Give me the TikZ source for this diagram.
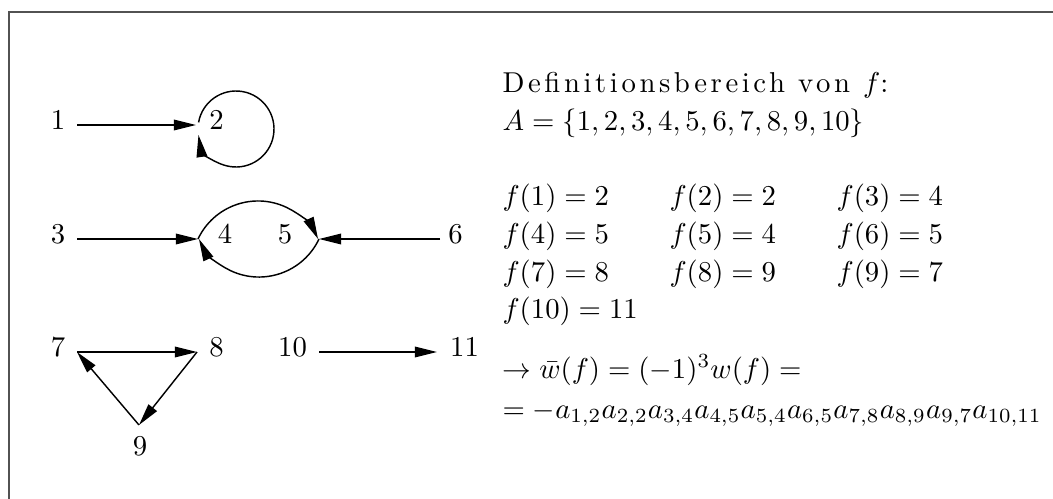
\documentclass[tikz,border=0pt]{standalone}
\usepackage{fontspec}
\usetikzlibrary{arrows.meta}
\newfontfamily\spacedfont[LetterSpace=12.5]{Latin Modern Roman}
\begin{document}
\begin{tikzpicture}[x=0.348pt,y=-0.348pt,
  arr/.style={line width=0.5pt,-{Triangle[length=7.7pt,width=3.7pt]}},
  lbl/.style={inner sep=0pt,anchor=base},
  txt/.style={inner sep=0pt,anchor=base west}]
\useasboundingbox (0,0) rectangle (1053,498);
\draw[line width=0.7pt,draw=black!68] (9,12) rectangle (1070,520);
% labels
\node[lbl] (n1) at (58,129) {1};
\node[lbl] (n2) at (216.5,129) {2};
\node[lbl] (n3) at (58,243) {3};
\node[lbl] (n4) at (225,243) {4};
\node[lbl] (n5) at (285,243) {5};
\node[lbl] (n6) at (455.5,243) {6};
\node[lbl] (n7) at (58,356) {7};
\node[lbl] (n8) at (216.5,356) {8};
\node[lbl] (n9) at (140,455) {9};
\node[lbl] (n10) at (292.5,356) {10};
\node[lbl] (n11) at (464.5,356) {11};
% vertex points
\coordinate (s1) at (77,125);
\coordinate (p2) at (196,125);
\coordinate (s3) at (77,239);
\coordinate (p4) at (198,239);
\coordinate (p5) at (319,239);
\coordinate (s6) at (440,239);
\coordinate (p7) at (77,352);
\coordinate (p8) at (197,352);
\coordinate (p9) at (139,425);
\coordinate (s10) at (319,352);
\coordinate (p11) at (437,352);
\coordinate (c2) at (236,129);
% connectors
\draw[arr] (s1) -- (p2);
\draw[arr] ([shift={(-170:38)}]c2) arc[start angle=-170, end angle=171, radius=38];
\draw[arr] (s3) -- (p4);
\draw[arr] (s6) -- (p5);
\draw[arr] (p4) arc[start angle=-154.7, end angle=-25.3, radius=66.4];
\draw[arr] (p5) arc[start angle=25.3, end angle=154.7, radius=66.4];
\draw[arr] (p7) -- (p8);
\draw[arr] (p8) -- (p9);
\draw[arr] (p9) -- (p7);
\draw[arr] (s10) -- (p11);
% text
\node[txt] (t1) at (502,92) {{\spacedfont Definitionsbereich von }$f${\spacedfont :}};
\node[txt] (t2) at (502,130) {$A=\{1,2,3,4,5,6,7,8,9,10\}$};
\node[txt] (f1) at (502,205) {$f(1)=2$};
\node[txt] (f2) at (669,205) {$f(2)=2$};
\node[txt] (f3) at (836,205) {$f(3)=4$};
\node[txt] (f4) at (502,243) {$f(4)=5$};
\node[txt] (f5) at (669,243) {$f(5)=4$};
\node[txt] (f6) at (836,243) {$f(6)=5$};
\node[txt] (f7) at (502,281) {$f(7)=8$};
\node[txt] (f8) at (669,281) {$f(8)=9$};
\node[txt] (f9) at (836,281) {$f(9)=7$};
\node[txt] (f10) at (502,318) {$f(10)=11$};
\node[txt] (w1) at (502,378) {$\rightarrow\bar{w}(f)=(-1)^3w(f)=$};
\node[txt] (w2) at (502,418) {$=-a_{1,2}a_{2,2}a_{3,4}a_{4,5}a_{5,4}a_{6,5}a_{7,8}a_{8,9}a_{9,7}a_{10,11}$};
\end{tikzpicture}
\end{document}
